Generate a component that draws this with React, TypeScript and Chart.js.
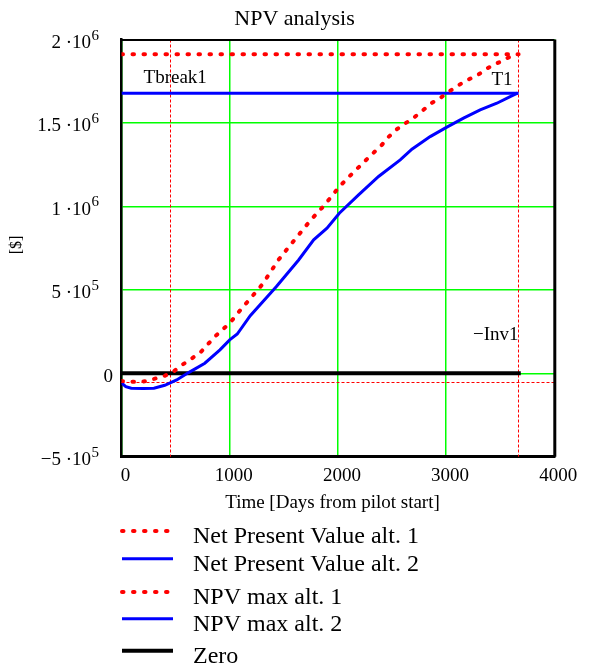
import React, { useEffect, useRef } from 'react';
import { Chart, registerables } from 'chart.js';

Chart.register(...registerables);

// ---------- text ----------
const TITLE = 'NPV analysis';
const X_TITLE = 'Time [Days from pilot start]';
const Y_TITLE = '[$]';
const SERIES_LABELS = [
  'Net Present Value alt. 1',
  'Net Present Value alt. 2',
  'NPV max alt. 1',
  'NPV max alt. 2',
  'Zero',
];
const MARKER_LABELS = ['Tbreak1', 'T1', '\u2212Inv1'];

// ---------- axes ----------
const X_MIN = 0;
const X_MAX = 4000;
const X_STEP = 1000;
const Y_MIN = -500000;
const Y_MAX = 2000000;
const Y_STEP = 500000;

// ---------- data ----------
const ALT1_DAYS = [
  0, 50, 150, 220, 310, 400, 450, 480, 560, 620, 730, 800, 880, 1000, 1100, 1260, 1310, 1450,
  1600, 1750, 1870, 2016, 2136, 2300, 2407, 2459, 2530, 2601, 2684, 2754, 2869, 2946, 3007,
  3075, 3146, 3216, 3299, 3370, 3438, 3506, 3576, 3622, 3660,
];
const ALT1_NPV = [
  -46000, -50000, -52000, -48000, -32000, -15000, 0, 10000, 50000, 75000, 125000, 175000,
  230000, 300000, 380000, 500000, 540000, 679000, 800000, 919000, 1003000, 1120000, 1199000,
  1303000, 1369000, 1410000, 1455000, 1489000, 1522000, 1559000, 1620000, 1649000, 1679000,
  1709000, 1738000, 1763000, 1790000, 1823000, 1848000, 1868000, 1892000, 1905000, 1912000,
];

const ALT2_DAYS = [
  0, 40, 90, 200, 300, 400, 510, 620, 770, 910, 1000, 1070, 1190, 1430, 1637, 1776, 1899,
  2013, 2191, 2376, 2576, 2684, 2853, 3007, 3161, 3315, 3469, 3592, 3660,
];
const ALT2_NPV = [
  -58000, -80000, -90000, -92000, -90000, -72000, -40000, 4000, 60000, 140000, 200000, 235000,
  345000, 519000, 679000, 800000, 869000, 959000, 1069000, 1179000, 1279000, 1343000, 1418000,
  1475000, 1529000, 1578000, 1618000, 1658000, 1678000,
];

const MAX_DAYS = [0, 3670];
const NPV_MAX_ALT1 = 1912000;
const NPV_MAX_ALT2 = 1678000;
const ZERO_DAYS = [0, 3690];
const ZERO_VALUE = 0;

const T_BREAK1 = 450;
const T1 = 3660;
const MINUS_INV1 = -54000;

// ---------- styling ----------
const FONT = '"Liberation Serif", "Times New Roman", serif';
const RED = '#ff0000';
const BLUE = '#0000ff';
const GRID = '#00ff00';

const LEGEND_SAMPLE_X0 = 120;
const LEGEND_SAMPLE_X1 = 173;
const LEGEND_TEXT_X = 193;
const LEGEND_BASELINES = [543, 570.7, 604, 630.7, 662.7];

function sci(v: number): { mant: string; exp: string } {
  if (v === 0) return { mant: '0', exp: '' };
  const e = Math.floor(Math.log10(Math.abs(v)) + 1e-9);
  const m = v / Math.pow(10, e);
  const ms = (Math.round(m * 100) / 100).toString().replace('-', '\u2212');
  return { mant: ms + ' \u00b710', exp: String(e) };
}

const decorPlugin = {
  id: 'decor',
  beforeDatasetsDraw(chart: any) {
    const { ctx, chartArea: a, scales } = chart;
    const x = scales.x;
    const y = scales.y;
    ctx.save();
    ctx.strokeStyle = RED;
    ctx.lineWidth = 1;
    ctx.setLineDash([3, 2]);
    for (const t of [T_BREAK1, T1]) {
      const px = Math.round(x.getPixelForValue(t)) + 0.5;
      ctx.beginPath();
      ctx.moveTo(px, a.top);
      ctx.lineTo(px, a.bottom);
      ctx.stroke();
    }
    const py = Math.round(y.getPixelForValue(MINUS_INV1)) + 0.5;
    ctx.beginPath();
    ctx.moveTo(a.left, py);
    ctx.lineTo(a.right, py);
    ctx.stroke();
    ctx.restore();
  },
  afterDraw(chart: any) {
    const { ctx, chartArea: a, scales } = chart;
    const x = scales.x;
    const y = scales.y;
    ctx.save();

    // frame top / right
    ctx.setLineDash([]);
    ctx.strokeStyle = '#000';
    ctx.lineWidth = 2;
    ctx.beginPath();
    ctx.moveTo(a.left, a.top + 0.5);
    ctx.lineTo(a.right, a.top + 0.5);
    ctx.stroke();
    ctx.lineWidth = 3;
    ctx.beginPath();
    ctx.moveTo(a.right + 0.5, a.top);
    ctx.lineTo(a.right + 0.5, a.bottom);
    ctx.stroke();

    ctx.fillStyle = '#000';

    // title
    ctx.font = `22px ${FONT}`;
    ctx.textAlign = 'center';
    ctx.textBaseline = 'alphabetic';
    ctx.fillText(TITLE, 294.5, 25);

    // y tick labels
    for (const t of y.ticks) {
      const v = t.value;
      const py = y.getPixelForValue(v);
      const { mant, exp } = sci(v);
      if (!exp) {
        ctx.font = `19px ${FONT}`;
        ctx.textAlign = 'right';
        ctx.fillText(mant, 113, py + 9);
        continue;
      }
      ctx.font = `15px ${FONT}`;
      const ew = ctx.measureText(exp).width;
      ctx.textAlign = 'right';
      ctx.fillText(exp, 99, py);
      ctx.font = `19px ${FONT}`;
      ctx.fillText(mant, 99 - ew - 0.5, py + 8.5);
    }

    // x tick labels
    ctx.font = `19px ${FONT}`;
    ctx.textAlign = 'center';
    for (const t of x.ticks) {
      const px = x.getPixelForValue(t.value);
      ctx.fillText(String(t.value), px + 4, 481);
    }

    // axis titles
    ctx.fillText(X_TITLE, 332.5, 507.5);
    ctx.save();
    ctx.font = `16px ${FONT}`;
    ctx.translate(21, 245);
    ctx.rotate(-Math.PI / 2);
    ctx.textAlign = 'center';
    ctx.fillText(Y_TITLE, 0, 0);
    ctx.restore();

    // marker labels
    ctx.font = `19px ${FONT}`;
    ctx.textAlign = 'center';
    ctx.fillText(MARKER_LABELS[0], x.getPixelForValue(T_BREAK1) + 5, a.top + 43.5);
    ctx.textAlign = 'right';
    ctx.fillText(MARKER_LABELS[1], x.getPixelForValue(T1) - 5, a.top + 45);
    ctx.fillText(MARKER_LABELS[2], x.getPixelForValue(T1) + 1, y.getPixelForValue(MINUS_INV1) - 42);

    // legend
    chart.data.datasets.forEach((ds: any, i: number) => {
      const base = LEGEND_BASELINES[i];
      const sy = base - 12;
      ctx.save();
      ctx.strokeStyle = ds.borderColor;
      ctx.lineWidth = ds.borderWidth;
      ctx.setLineDash(ds.borderDash || []);
      ctx.lineCap = ds.borderCapStyle || 'butt';
      ctx.beginPath();
      ctx.moveTo(LEGEND_SAMPLE_X0 + 2, sy);
      ctx.lineTo(LEGEND_SAMPLE_X1, sy);
      ctx.stroke();
      ctx.restore();
      ctx.font = `24px ${FONT}`;
      ctx.textAlign = 'left';
      ctx.fillStyle = '#000';
      ctx.fillText(ds.label, LEGEND_TEXT_X, base);
    });

    ctx.restore();
  },
};

function pairs(xs: number[], ys: number[]) {
  return xs.map((d, i) => ({ x: d, y: ys[i] }));
}

export default function App() {
  const ref = useRef<HTMLCanvasElement | null>(null);

  useEffect(() => {
    if (!ref.current) return;
    const dotted = { borderDash: [1.5, 9.5], borderCapStyle: 'round', borderWidth: 4 };
    const chart = new Chart(ref.current, {
      type: 'line',
      data: {
        datasets: [
          {
            label: SERIES_LABELS[0],
            data: pairs(ALT1_DAYS, ALT1_NPV),
            borderColor: RED,
            ...dotted,
            pointRadius: 0,
            fill: false,
          } as any,
          {
            label: SERIES_LABELS[1],
            data: pairs(ALT2_DAYS, ALT2_NPV),
            borderColor: BLUE,
            borderWidth: 3,
            pointRadius: 0,
            fill: false,
          },
          {
            label: SERIES_LABELS[2],
            data: pairs(MAX_DAYS, MAX_DAYS.map(() => NPV_MAX_ALT1)),
            borderColor: RED,
            ...dotted,
            pointRadius: 0,
            fill: false,
          } as any,
          {
            label: SERIES_LABELS[3],
            data: pairs(MAX_DAYS, MAX_DAYS.map(() => NPV_MAX_ALT2)),
            borderColor: BLUE,
            borderWidth: 3,
            pointRadius: 0,
            fill: false,
          },
          {
            label: SERIES_LABELS[4],
            data: pairs(ZERO_DAYS, ZERO_DAYS.map(() => ZERO_VALUE)),
            borderColor: '#000000',
            borderWidth: 4,
            pointRadius: 0,
            fill: false,
          },
        ],
      },
      options: {
        animation: false,
        responsive: false,
        devicePixelRatio: 1,
        layout: { padding: { left: 121.5, right: 41.7, top: 39.5, bottom: 213.3 } },
        plugins: {
          legend: { display: false },
          title: { display: false },
          tooltip: { enabled: false },
        },
        scales: {
          x: {
            type: 'linear',
            min: X_MIN,
            max: X_MAX,
            ticks: { display: false, stepSize: X_STEP },
            grid: { color: GRID, lineWidth: 1.5, drawTicks: false },
            border: { display: true, color: '#000', width: 3 },
          },
          y: {
            type: 'linear',
            min: Y_MIN,
            max: Y_MAX,
            ticks: { display: false, stepSize: Y_STEP },
            grid: { color: GRID, lineWidth: 1.5, drawTicks: false },
            border: { display: true, color: '#000', width: 2.5 },
          },
        },
      } as any,
      plugins: [decorPlugin],
    });
    return () => chart.destroy();
  }, []);

  return (
    <div style={{ position: 'absolute', left: 0, top: 0, width: 596, height: 670, background: '#fff' }}>
      <canvas ref={ref} width={596} height={670} style={{ display: 'block', width: 596, height: 670 }} />
    </div>
  );
}
